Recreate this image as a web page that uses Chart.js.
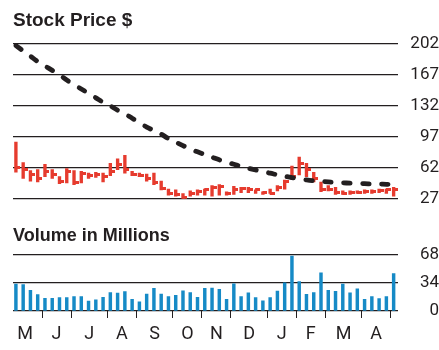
<!DOCTYPE html>
<html>
<head>
<meta charset="utf-8">
<script src="https://cdn.jsdelivr.net/npm/chart.js@4.4.1/dist/chart.umd.min.js"></script>
<style>
  html, body { margin: 0; padding: 0; background: #fff; overflow: hidden; }
  canvas { position: absolute; left: 0; display: block; }
  #priceChart { top: 0; }
  #volumeChart { top: 209px; }
</style>
</head>
<body>
<canvas id="priceChart" width="439" height="209"></canvas>
<canvas id="volumeChart" width="439" height="141"></canvas>
<script>
// weekly bars, May through April (53 weeks)
const priceHigh = [91, 68, 59, 60, 66, 60, 52, 61, 59, 58, 56, 57, 56, 67, 72, 76, 58, 56, 55, 56,
    47, 38, 37, 33, 36, 37, 38, 42, 43, 35, 41, 40, 40, 37, 35, 38, 42, 48, 64, 74,
    67, 57, 46, 42, 40, 36, 36, 36, 37, 37, 38, 38, 40];
const priceLow = [57, 50, 47, 46, 52, 50, 44, 45, 43, 45, 50, 51, 46, 53, 60, 56, 53, 52, 47, 43,
    37, 31, 30, 27, 30, 31, 31, 30, 31, 31, 32, 34, 34, 33, 32, 33, 36, 38, 49, 54,
    52, 46, 35, 36, 32, 32, 32, 33, 33, 33, 34, 33, 30];
const priceClose = [62, 60, 55, 50, 58, 55, 47, 58, 45, 56, 53, 54, 52, 58, 66, 60, 55, 53, 50, 45,
    39, 33, 32, 29, 33, 35, 37, 40, 41, 33, 38, 39, 38, 37, 34, 33, 40, 46, 52, 67,
    60, 50, 38, 38, 34, 33, 34, 34, 35, 35, 36, 37, 38];
const movingAvg = [200, 194, 188, 182, 177, 172, 167, 161, 156, 151, 146, 141, 136, 132, 127, 123, 118, 113, 108, 104,
    100, 95, 91, 87, 83, 80, 77, 74, 71, 68.5, 66, 63.5, 61.5, 59.5, 57.5, 56, 54, 52.5, 51, 49.5,
    48.3, 47.3, 46.6, 46, 45.5, 45, 44.7, 44.4, 44.1, 43.8, 43.6, 43.4, 43.2];
const volume = [32.6, 31.9, 24.8, 19.8, 15.2, 15.2, 16.3, 16.3, 17.4, 17.4, 12.0, 13.5, 16.6, 22.3, 21.6, 23.4, 14.2, 11.0, 20.5, 27.3,
    20.5, 17.4, 18.8, 24.4, 22.3, 16.6, 27.3, 27.6, 26.2, 14.2, 32.9, 17.4, 22.0, 16.3, 12.4, 16.3, 24.1, 34.0, 66.2, 35.4,
    20.2, 22.3, 46.0, 24.8, 23.7, 32.6, 22.0, 26.6, 14.2, 17.4, 14.9, 17.4, 45.0];

const priceTicks = [27, 62, 97, 132, 167, 202];
const volumeTicks = [0, 34, 68];
const monthLabels = ['M', 'J', 'J', 'A', 'S', 'O', 'N', 'D', 'J', 'F', 'M', 'A'];
// week position where each month begins (first one falls before the axis)
const monthStarts = [-1.1, 3.6, 7.6, 12.6, 16.6, 21.6, 25.6, 29.6, 34.6, 38.6, 42.6, 47.6, 51.6];

const ink = '#231f20';
const red = '#e63b2e';
const blue = '#168ac6';
const fontFamily = 'Roboto, "Liberation Sans", sans-serif';
const xMin = -0.4, xMax = 52.6;

const weeks = volume.map((v, i) => i);
const monthMids = monthLabels.map((m, i) => (monthStarts[i] + monthStarts[i + 1]) / 2);

// close marker: short stub to the right of the bar
function closeStub(color) {
    const c = document.createElement('canvas');
    c.width = 9; c.height = 3;
    const g = c.getContext('2d');
    g.fillStyle = color;
    g.fillRect(4, 0, 5, 3);
    return c;
}

function fixedTicks(values) {
    return axis => { axis.ticks = values.map(v => ({ value: v })); };
}

const titleFamily = '"Liberation Sans", Arial, sans-serif';
const tickFont = { family: fontFamily, size: 17 };

new Chart(document.getElementById('priceChart'), {
    data: {
        datasets: [{
            type: 'line',
            data: weeks.map(i => ({ x: i, y: movingAvg[i] })),
            borderColor: ink,
            borderWidth: 4.8,
            borderDash: [6.5, 12.5],
            borderCapStyle: 'round',
            pointRadius: 0,
            tension: 0.3,
            clip: false,
            order: 0
        }, {
            type: 'line',
            data: weeks.map(i => ({ x: i, y: priceClose[i] })),
            showLine: false,
            pointStyle: closeStub(red),
            order: 1
        }, {
            type: 'bar',
            data: weeks.map(i => ({ x: i, y: [priceLow[i], priceHigh[i]] })),
            backgroundColor: red,
            barThickness: 2.7,
            order: 2
        }]
    },
    options: {
        responsive: false,
        animation: false,
        devicePixelRatio: 1,
        layout: { padding: { left: 13, right: 0, top: 0, bottom: 0 } },
        plugins: {
            legend: { display: false },
            tooltip: { enabled: false },
            title: {
                display: true,
                text: 'Stock Price $',
                align: 'start',
                color: ink,
                font: { family: titleFamily, size: 19, weight: 'bold' },
                padding: { top: 9, bottom: 12 }
            }
        },
        scales: {
            x: { type: 'linear', min: xMin, max: xMax, offset: false, display: false },
            y: {
                position: 'right',
                min: 27,
                max: 202,
                afterBuildTicks: fixedTicks(priceTicks),
                afterFit: s => { s.width = 41; },
                grid: { color: ink, lineWidth: 1.3, drawTicks: false },
                border: { display: false },
                ticks: { color: ink, font: tickFont, padding: 0, crossAlign: 'far' }
            }
        }
    }
});

new Chart(document.getElementById('volumeChart'), {
    type: 'bar',
    data: {
        datasets: [{
            data: weeks.map(i => ({ x: i, y: volume[i] })),
            backgroundColor: blue,
            barThickness: 2.8
        }]
    },
    options: {
        responsive: false,
        animation: false,
        devicePixelRatio: 1,
        layout: { padding: { left: 13, right: 0, top: 0, bottom: 0 } },
        plugins: {
            legend: { display: false },
            tooltip: { enabled: false },
            title: {
                display: true,
                text: 'Volume in Millions',
                align: 'start',
                color: ink,
                font: { family: titleFamily, size: 18, weight: 'bold' },
                padding: { top: 16, bottom: 8 }
            }
        },
        scales: {
            x: {
                type: 'linear',
                min: xMin,
                max: xMax,
                offset: false,
                afterBuildTicks: fixedTicks(monthStarts.slice(1)),
                grid: { offset: false, drawOnChartArea: false, drawTicks: true, tickLength: 7, color: ink, lineWidth: 1 },
                border: { display: false },
                ticks: { display: false }
            },
            months: {
                type: 'linear',
                position: 'bottom',
                min: xMin,
                max: xMax,
                offset: false,
                afterBuildTicks: fixedTicks(monthMids),
                grid: { display: false, drawTicks: false },
                border: { display: false },
                ticks: {
                    color: ink,
                    font: { family: fontFamily, size: 18, lineHeight: 1 },
                    padding: 7,
                    maxRotation: 0,
                    autoSkip: false,
                    callback: (v, i) => monthLabels[i]
                }
            },
            y: {
                position: 'right',
                min: 0,
                max: 68,
                afterBuildTicks: fixedTicks(volumeTicks),
                afterFit: s => { s.width = 41; },
                grid: { color: ink, lineWidth: 1.3, drawTicks: false },
                border: { display: false },
                ticks: { color: ink, font: tickFont, padding: 0, crossAlign: 'far' }
            }
        }
    }
});
</script>
</body>
</html>
